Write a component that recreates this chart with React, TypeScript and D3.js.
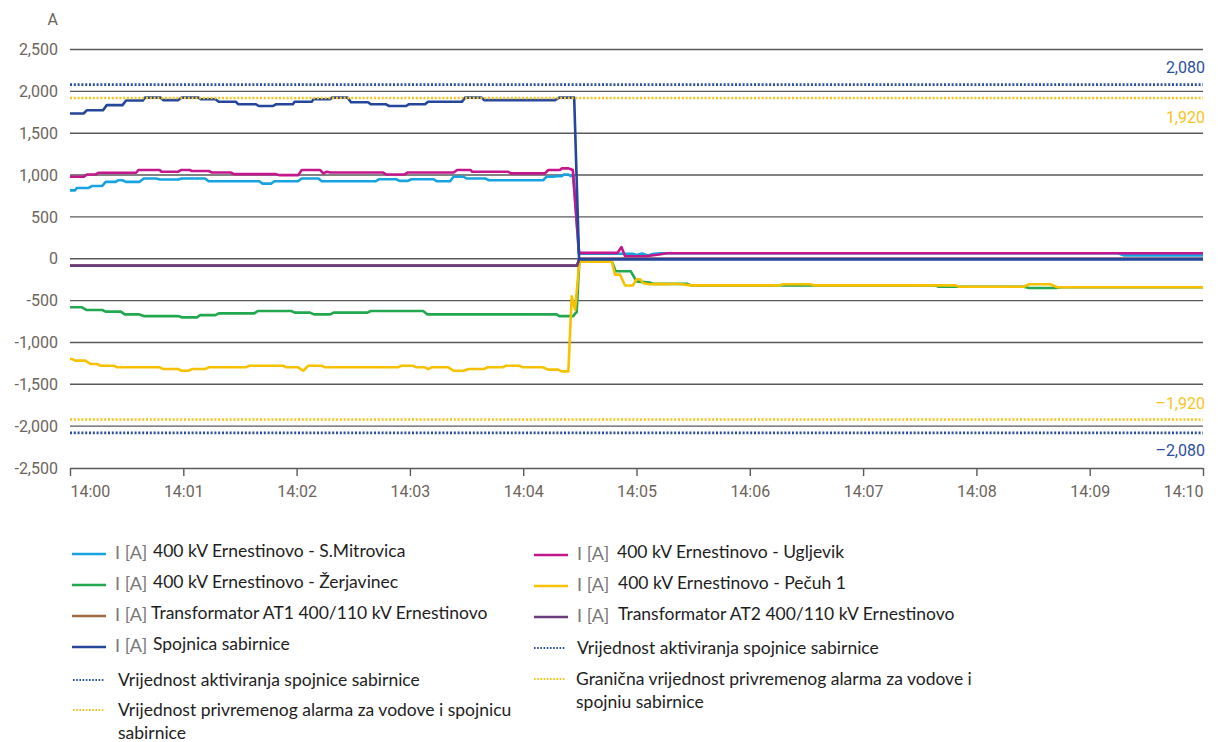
import React, { useEffect, useRef } from 'react';
import * as d3 from 'd3';

// [seconds after 14:00:00, current in A]
const mitrovica: [number, number][] = [
  [0, 817], [2.7, 817], [3.6, 846], [9.9, 846], [11.7, 870], [17.1, 870], [18.9, 918], [24.2, 918],
  [25.5, 938], [27.8, 938], [29.6, 918], [36.7, 918], [39.1, 958], [45.7, 958], [47.5, 946], [57.3, 946],
  [59.1, 958], [71.6, 958], [73.4, 926], [100.2, 926], [102, 898], [106.5, 898], [108.3, 926], [120.8, 926],
  [122.6, 958], [131.6, 958], [133.3, 926], [162, 926], [163.8, 950], [172.7, 950], [174.5, 930], [179, 930],
  [180.8, 950], [192.4, 950], [194.2, 926], [201.3, 926], [203.1, 979], [208.5, 979], [210.3, 958], [220.1, 958],
  [221.9, 938], [250.5, 938], [252.3, 979], [255.9, 979], [257.7, 987], [260.4, 987], [261.6, 1007], [263.9, 1007],
  [265, 990], [266.5, 985], [269.5, 60], [298, 60], [300, 45], [303, 62], [306, 40], [309, 60], [313, 65],
  [555, 65], [558, 40], [600, 40],
];

const ugljevik: [number, number][] = [
  [0, 979], [7.2, 979], [9, 1007], [13.5, 1007], [15.3, 1027], [35, 1027], [36.2, 1060], [47.5, 1060],
  [48.4, 1040], [57.3, 1040], [58.7, 1060], [63.6, 1060], [64.5, 1048], [73.4, 1048], [75.2, 1031], [85, 1031],
  [86.9, 1011], [109.2, 1011], [111, 999], [120.9, 999], [122.7, 1060], [132.4, 1060], [134.2, 1020], [136, 1040],
  [137.9, 1031], [165.6, 1031], [167.4, 1007], [177.2, 1007], [179, 1031], [203.2, 1031], [205, 1060], [212.1, 1060],
  [213, 1040], [231.8, 1040], [233.6, 1020], [251.5, 1020], [253.3, 1060], [259.5, 1060], [260.4, 1080], [264, 1080],
  [265.2, 1070], [266.3, 1060], [269.6, 70], [290, 70], [292, 140], [294, 30], [305, 30], [312, 50], [316, 65],
  [600, 65],
];

const zerjavinec: [number, number][] = [
  [0, -580], [6.3, -580], [8.7, -612], [17.1, -612], [18.9, -632], [26.9, -632], [29, -665], [36.7, -665],
  [39.1, -685], [57.3, -685], [59.1, -700], [67.2, -700], [69, -673], [77, -673], [78.8, -653], [97.6, -653],
  [99.4, -624], [117.2, -624], [119, -644], [127.1, -644], [129.2, -665], [137.8, -665], [139.6, -644], [157.5, -644],
  [159.3, -624], [187, -624], [189.3, -665], [257.7, -665], [259.1, -685], [266.6, -685], [267.5, -655], [268.3, -640],
  [269.7, -35], [287, -35], [289, -150], [297, -150], [300, -270], [307, -285], [309, -300], [327, -300],
  [329, -318], [458, -318], [460, -335], [505, -335], [508, -350], [522, -350], [525, -340], [600, -340],
];

const pecuh: [number, number][] = [
  [0, -1197], [1, -1197], [2.7, -1217], [8.1, -1217], [10.8, -1258], [14.4, -1258], [16.2, -1278], [23.3, -1278],
  [25.1, -1297], [47.5, -1297], [49.3, -1318], [57.3, -1318], [59.1, -1338], [62.7, -1338], [64.5, -1318], [71.6, -1318],
  [73.4, -1297], [93.1, -1297], [94.9, -1278], [112.8, -1278], [114.6, -1297], [120.8, -1297], [123.5, -1338], [126.2, -1278],
  [133.3, -1278], [135.1, -1297], [173.6, -1297], [175.4, -1278], [181.6, -1278], [183.4, -1297], [187.9, -1297], [189.7, -1318],
  [191.5, -1297], [200.4, -1297], [203.1, -1338], [208.5, -1338], [211.2, -1318], [219.2, -1318], [221, -1297], [229.1, -1297],
  [230.9, -1278], [238, -1278], [239.8, -1297], [250.5, -1297], [253.2, -1325], [258.6, -1325], [260.4, -1345], [263.9, -1346],
  [265.7, -450], [267.5, -610], [269.7, -35], [287, -35], [288.6, -190], [291.3, -190], [293.9, -320], [298, -320],
  [300.1, -245], [302, -245], [303.6, -292], [307, -305], [312, -300], [316, -305], [320, -298], [324, -305],
  [328.3, -318], [376, -318], [378, -305], [392, -305], [394, -318], [469, -318], [471, -335], [505, -335],
  [508, -305], [519, -305], [523, -340], [600, -340],
];

const at1: [number, number][] = [[0, -80], [268.5, -80], [269.7, 0], [600, 0]];
const at2: [number, number][] = [[0, -82], [268.5, -82], [269.7, 0], [600, 0]];

const spojnica: [number, number][] = [
  [0, 1735], [7.2, 1735], [9, 1775], [17.5, 1775], [19.4, 1835], [27.8, 1835], [29.7, 1890], [38.6, 1890],
  [39.7, 1925], [48, 1925], [49.3, 1895], [57.2, 1895], [59.1, 1925], [68, 1925], [69.4, 1905], [77, 1905],
  [78.8, 1875], [87.8, 1875], [89.2, 1845], [98.5, 1845], [100, 1825], [107.5, 1825], [109, 1845], [118, 1845],
  [119, 1875], [128, 1875], [129, 1905], [137.7, 1905], [138.8, 1925], [147, 1925], [148.8, 1870], [157.8, 1870],
  [159.4, 1845], [167.4, 1845], [169, 1825], [178, 1825], [179.3, 1845], [188, 1845], [189.6, 1875], [207.6, 1875],
  [209.2, 1925], [218, 1925], [219.3, 1895], [256.9, 1895], [259, 1925], [267, 1925], [269.6, -8], [600, -8],
];

const yTicks = [2500, 2000, 1500, 1000, 500, 0, -500, -1000, -1500, -2000, -2500];
const minuteTicks = [0, 60, 120, 180, 240, 300, 360, 420, 480, 540, 600];
const minuteLabels = ['14:00', '14:01', '14:02', '14:03', '14:04', '14:05', '14:06', '14:07', '14:08', '14:09', '14:10'];

const thresholds = [2080, 1920, -1920, -2080];
const thresholdLabels = ['2,080', '1,920', '–1,920', '–2,080'];

// drawing order: first drawn lies below
const seriesNames = [
  '400 kV Ernestinovo - S.Mitrovica',
  '400 kV Ernestinovo - Žerjavinec',
  '400 kV Ernestinovo - Ugljevik',
  '400 kV Ernestinovo - Pečuh 1',
  'Transformator AT1 400/110 kV Ernestinovo',
  'Transformator AT2 400/110 kV Ernestinovo',
  'Spojnica sabirnice',
];
const seriesData = [mitrovica, zerjavinec, ugljevik, pecuh, at1, at2, spojnica];

const colors: Record<string, string> = {
  '400 kV Ernestinovo - S.Mitrovica': '#17a3e1',
  '400 kV Ernestinovo - Žerjavinec': '#22a84e',
  '400 kV Ernestinovo - Ugljevik': '#c4178b',
  '400 kV Ernestinovo - Pečuh 1': '#f8c100',
  'Transformator AT1 400/110 kV Ernestinovo': '#9c6c40',
  'Transformator AT2 400/110 kV Ernestinovo': '#6b3d7d',
  'Spojnica sabirnice': '#24479b',
};
const dotBlue = '#2b4f9f';
const dotYellow = '#f7c41c';

function Chart() {
  const ref = useRef<SVGSVGElement>(null);

  useEffect(() => {
    if (!ref.current) return;
    const svg = d3.select(ref.current);
    svg.selectAll('*').remove();

    const left = 70, right = 1203;
    const x = d3.scaleLinear().domain([0, 600]).range([left, right]);
    const y = d3.scaleLinear().domain([-2500, 2500]).range([468, 49.5]);
    const tickColor = '#6d645b';
    const tickFont = 'Roboto, sans-serif';

    // gridlines
    svg.append('g')
      .selectAll('line')
      .data(yTicks.filter(d => d !== -2500))
      .join('line')
      .attr('x1', left).attr('x2', right)
      .attr('y1', d => y(d)).attr('y2', d => y(d))
      .attr('stroke', '#5a5a5a').attr('stroke-width', 1.4);

    // y labels
    svg.append('g')
      .selectAll('text')
      .data(yTicks)
      .join('text')
      .attr('x', 58).attr('y', d => y(d))
      .attr('dy', '0.35em')
      .attr('text-anchor', 'end')
      .attr('font-family', tickFont).attr('font-size', 16)
      .attr('fill', tickColor)
      .text(d => (d < 0 ? '-' : '') + d3.format(',')(Math.abs(d)));

    svg.append('text')
      .attr('x', 58).attr('y', 25)
      .attr('text-anchor', 'end')
      .attr('font-family', tickFont).attr('font-size', 16)
      .attr('fill', tickColor)
      .text('A');

    // x axis
    const xAxis = svg.append('g')
      .attr('transform', `translate(0,${y(-2500)})`)
      .call(d3.axisBottom(x).tickValues(minuteTicks).tickSize(8).tickSizeOuter(0)
        .tickFormat((d, i) => minuteLabels[i]));
    xAxis.select('.domain').attr('stroke', '#5a5a5a').attr('stroke-width', 1.4);
    xAxis.selectAll('.tick line').attr('stroke', '#5a5a5a').attr('stroke-width', 1.4);
    xAxis.selectAll('.tick text')
      .attr('font-family', tickFont).attr('font-size', 16)
      .attr('fill', tickColor).attr('dy', '1.15em')
      .attr('text-anchor', (d, i) => (i === 0 ? 'start' : i === minuteTicks.length - 1 ? 'end' : 'middle'));

    // series
    const line = d3.line<[number, number]>()
      .x(d => x(d[0]))
      .y(d => y(d[1]));

    svg.append('g')
      .selectAll('path')
      .data(seriesNames)
      .join('path')
      .attr('d', (d, i) => line(seriesData[i]))
      .attr('fill', 'none')
      .attr('stroke', d => colors[d])
      .attr('stroke-width', 2.6)
      .attr('stroke-linejoin', 'round');

    // thresholds
    const thrColor = (d: number) => (Math.abs(d) === 2080 ? dotBlue : dotYellow);
    svg.append('g')
      .selectAll('line')
      .data(thresholds)
      .join('line')
      .attr('x1', left).attr('x2', right)
      .attr('y1', d => y(d)).attr('y2', d => y(d))
      .attr('stroke', thrColor)
      .attr('stroke-width', 2.6)
      .attr('stroke-dasharray', '2 1.8');

    const labelOffset = [-12, 25, -10, 23];
    svg.append('g')
      .selectAll('text')
      .data(thresholds)
      .join('text')
      .attr('x', 1205)
      .attr('y', (d, i) => y(d) + labelOffset[i])
      .attr('text-anchor', 'end')
      .attr('font-family', tickFont).attr('font-size', 16)
      .attr('fill', thrColor)
      .text((d, i) => thresholdLabels[i]);

    // legend
    const legendFont = 'Lato, sans-serif';
    const lg = svg.append('g');
    const solidItems = [
      { name: seriesNames[0], lx: 72, ty: 554, tx: 153 },
      { name: seriesNames[1], lx: 72, ty: 585, tx: 153 },
      { name: seriesNames[4], lx: 72, ty: 616, tx: 151 },
      { name: seriesNames[6], lx: 72, ty: 647, tx: 153 },
      { name: seriesNames[2], lx: 534, ty: 555, tx: 617 },
      { name: seriesNames[3], lx: 534, ty: 586, tx: 618 },
      { name: seriesNames[5], lx: 534, ty: 617, tx: 618 },
    ];
    solidItems.forEach(it => {
      lg.append('line')
        .attr('x1', it.lx).attr('x2', it.lx + 34)
        .attr('y1', it.ty).attr('y2', it.ty)
        .attr('stroke', colors[it.name]).attr('stroke-width', 2.4);
      lg.append('text')
        .attr('x', it.lx + 43).attr('y', it.ty + 5)
        .attr('font-family', legendFont).attr('font-size', 18)
        .attr('fill', '#777777')
        .text('I [A]');
      lg.append('text')
        .attr('x', it.tx).attr('y', it.ty + 3)
        .attr('font-family', legendFont).attr('font-size', 17.5)
        .attr('fill', '#1e1e1e')
        .text(it.name);
    });

    const dottedItems = [
      { color: dotBlue, lx: 73, ty: 680, tx: 118, lines: ['Vrijednost aktiviranja spojnice sabirnice'] },
      { color: dotYellow, lx: 73, ty: 710, tx: 118, lines: ['Vrijednost privremenog alarma za vodove i spojnicu', 'sabirnice'] },
      { color: dotBlue, lx: 534, ty: 648, tx: 577, lines: ['Vrijednost aktiviranja spojnice sabirnice'] },
      { color: dotYellow, lx: 534, ty: 679, tx: 576, lines: ['Granična vrijednost privremenog alarma za vodove i', 'spojniu sabirnice'] },
    ];
    dottedItems.forEach(it => {
      lg.append('line')
        .attr('x1', it.lx).attr('x2', it.lx + 32)
        .attr('y1', it.ty).attr('y2', it.ty)
        .attr('stroke', it.color).attr('stroke-width', 2)
        .attr('stroke-dasharray', '1.6 1.6');
      it.lines.forEach((t, k) => {
        lg.append('text')
          .attr('x', it.tx).attr('y', it.ty + 6 + k * 22.5)
          .attr('font-family', legendFont).attr('font-size', 17.5)
          .attr('fill', '#1e1e1e')
          .text(t);
      });
    });
  }, []);

  return <svg ref={ref} width={1218} height={742} style={{ position: 'absolute', left: 0, top: 0, background: '#fff' }} />;
}

export default function App() {
  return <Chart />;
}
